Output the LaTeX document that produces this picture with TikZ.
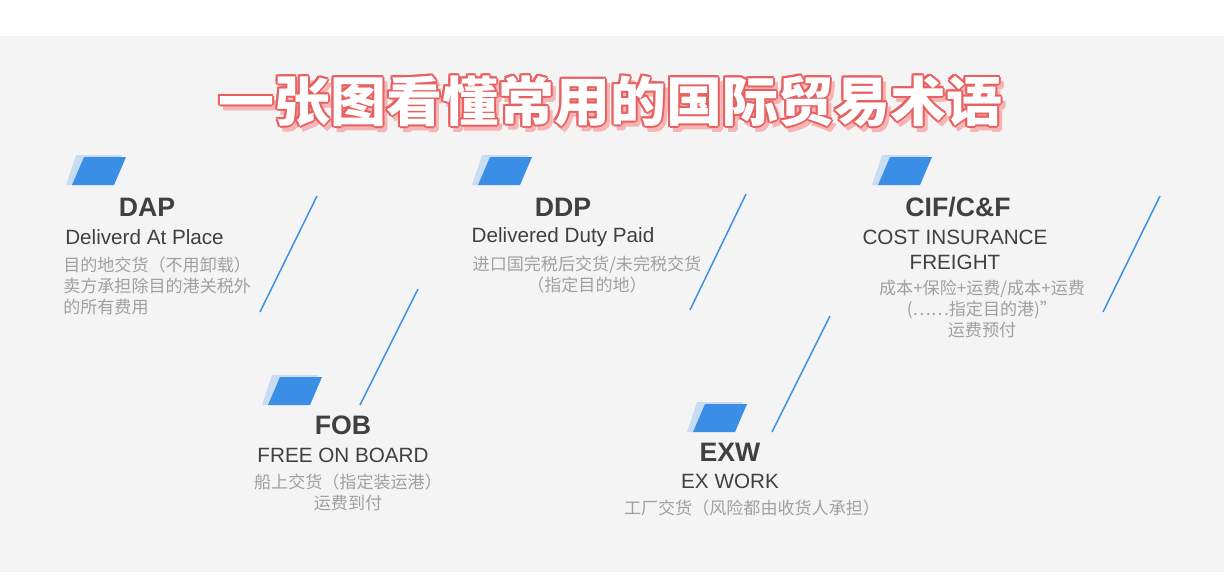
\documentclass[tikz,border=0pt]{standalone}
\usepackage{fontspec}
\setmainfont{Liberation Sans}
\newfontfamily\cjk{Noto Sans CJK SC}
\definecolor{bgGray}{RGB}{244,244,244}
\definecolor{iconBlue}{RGB}{58,142,230}
\definecolor{iconPale}{RGB}{200,220,242}
\definecolor{darkText}{RGB}{64,64,64}
\definecolor{paleText}{RGB}{160,160,160}
\definecolor{titleRed}{RGB}{232,96,96}
\definecolor{titlePink}{RGB}{246,180,180}
\tikzset{
  codeName/.style={text=darkText,font=\bfseries\fontsize{20}{22}\selectfont,inner sep=0.75pt},
  engName/.style={text=darkText,font=\fontsize{15.5}{18.8}\selectfont,inner sep=0.75pt},
  cnNote/.style={text=paleText,font=\cjk\fontsize{12.8}{15.5}\selectfont,inner sep=0.75pt,align=center},
  slash/.style={draw=iconBlue,line width=1.1pt},
  titleFont/.style={font=\cjk\bfseries\fontsize{40}{40}\selectfont,xscale=1.05,inner sep=0pt}
}
\newcommand{\tradeIcon}[2]{% left x, top y of the front parallelogram
  \fill[iconPale] (#1+10-4,#2) -- (#1+56-4,#2) -- (#1+42-4,#2+30) -- (#1-4,#2+30) -- cycle;
  \fill[iconBlue] (#1+14,#2+2) -- (#1+56,#2+2) -- (#1+44,#2+30) -- (#1+2,#2+30) -- cycle;
}
\begin{document}
\begin{tikzpicture}[x=0.75pt,y=0.75pt,yscale=-1,xscale=1]
\useasboundingbox (0,0) rectangle (1224,582);
\fill[white] (0,0) rectangle (1224,582);
\fill[bgGray] (0,36) rectangle (1224,572);

% title
\foreach \dx/\dy in {4/5,3/6,5/4} \node[titleFont,text=titlePink] at (610+\dx,101+\dy) {一张图看懂常用的国际贸易术语};
\foreach \dx/\dy in {-2/0,2/0,0/-2,0/2,-1.5/-1.5,1.5/1.5,-1.5/1.5,1.5/-1.5} \node[titleFont,text=titleRed] at (610+\dx,101+\dy) {一张图看懂常用的国际贸易术语};
\node[titleFont,text=white] (title) at (610,101) {一张图看懂常用的国际贸易术语};

% DAP
\tradeIcon{70}{155}
\node[codeName] (dap) at (147,207) {DAP};
\node[engName,anchor=west] (dapEn) at (64,237) {Deliverd At Place};
\node[cnNote,anchor=north west,align=left] (dapCn) at (62,256) {目的地交货（不用卸载）\\卖方承担除目的港关税外\\的所有费用};
\draw[slash] (260,312) -- (317,196);

% DDP
\tradeIcon{476}{155}
\node[codeName] (ddp) at (563,207) {DDP};
\node[engName] (ddpEn) at (563,237) {Delivered Duty Paid};
\node[cnNote,anchor=north] (ddpCn) at (587,255) {进口国完税后交货/未完税交货\\（指定目的地）};
\draw[slash] (690,310) -- (746,194);

% CIF/C&F
\tradeIcon{876}{155}
\node[codeName] (cif) at (958,207) {CIF/C\&F};
\node[engName,align=center] (cifEn) at (955,249.5) {COST INSURANCE\\FREIGHT};
\node[cnNote,anchor=north] (cifCn) at (982,279) {成本+保险+运费/成本+运费\\(……指定目的港)”\\运费预付};
\draw[slash] (1103,312) -- (1160,196);

% FOB
\tradeIcon{266}{375}
\node[codeName] (fob) at (343,425) {FOB};
\node[engName] (fobEn) at (343,455) {FREE ON BOARD};
\node[cnNote,anchor=north] (fobCn) at (348,473) {船上交货（指定装运港）\\运费到付};
\draw[slash] (360,405) -- (418,289);

% EXW
\tradeIcon{691}{402}
\node[codeName] (exw) at (730,452) {EXW};
\node[engName] (exwEn) at (730,481) {EX WORK};
\node[cnNote,anchor=north] (exwCn) at (752,499) {工厂交货（风险都由收货人承担）};
\draw[slash] (772,432) -- (830,316);
\end{tikzpicture}
\end{document}
